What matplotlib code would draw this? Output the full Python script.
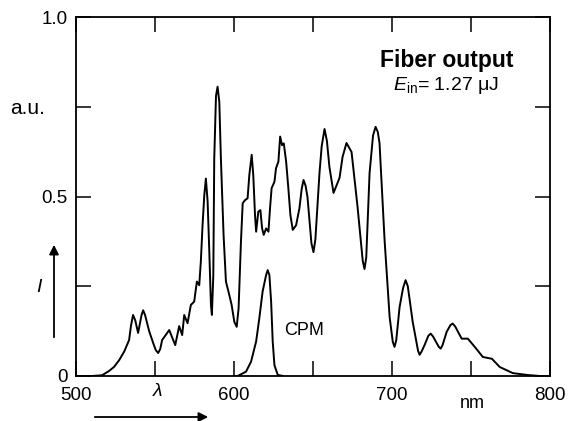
import numpy as np
import matplotlib
matplotlib.use("Agg")
import matplotlib.pyplot as plt
from matplotlib.patches import FancyArrowPatch
from matplotlib.ticker import FixedLocator, FixedFormatter

plt.rcParams['font.family'] = ['Liberation Sans', 'DejaVu Sans']
plt.rcParams['mathtext.fontset'] = 'custom'
plt.rcParams['mathtext.rm'] = 'Liberation Sans'
plt.rcParams['mathtext.it'] = 'Liberation Sans:italic'

# fiber output spectrum (nm, a.u.)
fiber_nm = [500, 510, 516.5, 520.9, 524, 527.3, 530.5, 533.6, 534.8, 536.1, 537.5,
            539.3, 541.5, 542.5, 543.7, 546.3, 549, 550.5, 552, 553.3, 554.5, 559,
            562.8, 565.3, 567.2, 568.5, 570.6, 572.7, 574.8, 576.5, 578, 579, 580.1,
            581.2, 582.2, 583.3, 584.3, 585.4, 586.0, 586.9, 587.5, 588.6, 589.6, 590.7,
            591.7, 593.4, 594.9, 597, 598.5, 600.2, 601.7, 602.9, 604.4, 605.5, 607,
            608.6, 609.7, 611.2, 612.2, 613.3, 614, 615.4, 616.7, 617.8, 618.8, 620.3,
            621.8, 622.8, 623.8, 625.6, 626.6, 628.1, 629.2, 630.4, 631.5, 633, 634.4,
            635.7, 637.2, 639.3, 641.4, 642.8, 644, 645.3, 646.5, 649, 650.3, 651.5,
            654.1, 655.5, 657.3, 658.8, 660.4, 663, 666.8, 668.7, 671.2, 674.4, 678.2,
            681.5, 682.6, 683.7, 685.8, 688, 689.6, 691, 692.1, 695.3, 698.5, 700.5,
            701.6, 702.7, 704.8, 707, 708.6, 710, 713.1, 716.5, 717.5, 718.7, 720.7,
            723, 724.5, 726, 729.5, 730.8, 732, 734.6, 737, 738.4, 740, 744.1, 748,
            752.4, 757.5, 763.2, 768.2, 776.5, 785.4, 793.6, 800]
fiber_val = [0, 0, 0.002, 0.014, 0.025, 0.044, 0.068, 0.10, 0.14, 0.17, 0.155,
             0.12, 0.17, 0.183, 0.17, 0.125, 0.09, 0.072, 0.064, 0.075, 0.10, 0.128,
             0.086, 0.139, 0.114, 0.17, 0.147, 0.198, 0.207, 0.263, 0.253, 0.318, 0.42,
             0.504, 0.55, 0.486, 0.356, 0.198, 0.17, 0.28, 0.606, 0.78, 0.806, 0.764,
             0.606, 0.393, 0.263, 0.226, 0.198, 0.151, 0.137, 0.188, 0.374, 0.481, 0.49,
             0.495, 0.56, 0.616, 0.56, 0.448, 0.402, 0.458, 0.462, 0.411, 0.393, 0.411,
             0.402, 0.467, 0.523, 0.541, 0.579, 0.597, 0.667, 0.643, 0.648, 0.597, 0.523,
             0.448, 0.407, 0.42, 0.467, 0.52, 0.546, 0.53, 0.499, 0.37, 0.345, 0.38,
             0.565, 0.64, 0.688, 0.655, 0.582, 0.51, 0.552, 0.61, 0.649, 0.624, 0.471,
             0.32, 0.298, 0.33, 0.565, 0.67, 0.694, 0.68, 0.649, 0.379, 0.164, 0.095,
             0.081, 0.10, 0.192, 0.245, 0.267, 0.25, 0.151, 0.07, 0.059, 0.068, 0.087,
             0.112, 0.118, 0.11, 0.082, 0.076, 0.086, 0.123, 0.142, 0.146, 0.138, 0.104, 0.104,
             0.081, 0.053, 0.048, 0.025, 0.008, 0.003, 0, 0]

# CPM input spectrum
cpm_nm = [600, 602.3, 607.6, 610.8, 614, 616, 618.1, 620.3, 621.3, 622.4, 623.5,
          624.5, 625.6, 627.7, 631]
cpm_val = [0, 0, 0.012, 0.04, 0.096, 0.16, 0.235, 0.281, 0.295, 0.281, 0.207,
           0.096, 0.03, 0.003, 0]

x_ticks = [500, 550, 600, 650, 700, 750, 800]
x_labels = ['500', '', '600', '', '700', '', '800']
y_ticks = [0, 0.25, 0.5, 0.75, 1.0]
y_labels = ['0', '', '0.5', '', '1.0']

W, H = 569, 421
fig = plt.figure(figsize=(W / 100, H / 100), dpi=100)
ax = fig.add_axes([76 / W, 1 - 376 / H, 474 / W, 359 / H])

ax.plot(fiber_nm, fiber_val, color='k', lw=1.4, solid_joinstyle='round')
ax.plot(cpm_nm, cpm_val, color='k', lw=1.4, solid_joinstyle='round')

ax.set_xlim(500, 800)
ax.set_ylim(0, 1.0)
ax.xaxis.set_major_locator(FixedLocator(x_ticks))
ax.xaxis.set_major_formatter(FixedFormatter(x_labels))
ax.yaxis.set_major_locator(FixedLocator(y_ticks))
ax.yaxis.set_major_formatter(FixedFormatter(y_labels))
ax.tick_params(direction='in', length=11, width=1.1, top=True, right=True,
               labelsize=13.5)
ax.tick_params(axis='x', pad=8)
ax.tick_params(axis='y', pad=6)
for s in ax.spines.values():
    s.set_linewidth(1.3)

ax.text(631.5, 0.126, 'CPM', fontsize=13, va='center', ha='left')


def fx(px):
    return px / W


def fy(py):
    return 1 - py / H


fig.text(fx(28), fy(108), 'a.u.', fontsize=15, ha='center', va='center')
fig.text(fx(39), fy(288), 'I', fontsize=14, style='italic', ha='center', va='center')
fig.text(fx(158), fy(391), 'λ', fontsize=14, style='italic', ha='center', va='center')
fig.text(fx(472), fy(403), 'nm', fontsize=13, ha='center', va='center')
fig.text(fx(513), fy(61), 'Fiber output', fontsize=16.5, fontweight='bold',
         ha='right', va='center')
fig.text(fx(393), fy(86), r'$E_{\rm in}$= 1.27 μJ', fontsize=14, ha='left', va='center')

# intensity and wavelength arrows
fig.add_artist(FancyArrowPatch((fx(54), fy(340)), (fx(54), fy(242)),
                               transform=fig.transFigure, arrowstyle='-|>',
                               mutation_scale=14, lw=1.3, color='k'))
fig.add_artist(FancyArrowPatch((fx(92), fy(417)), (fx(211), fy(417)),
                               transform=fig.transFigure, arrowstyle='-|>',
                               mutation_scale=14, lw=1.3, color='k'))

fig.savefig('out.png', dpi=100)
